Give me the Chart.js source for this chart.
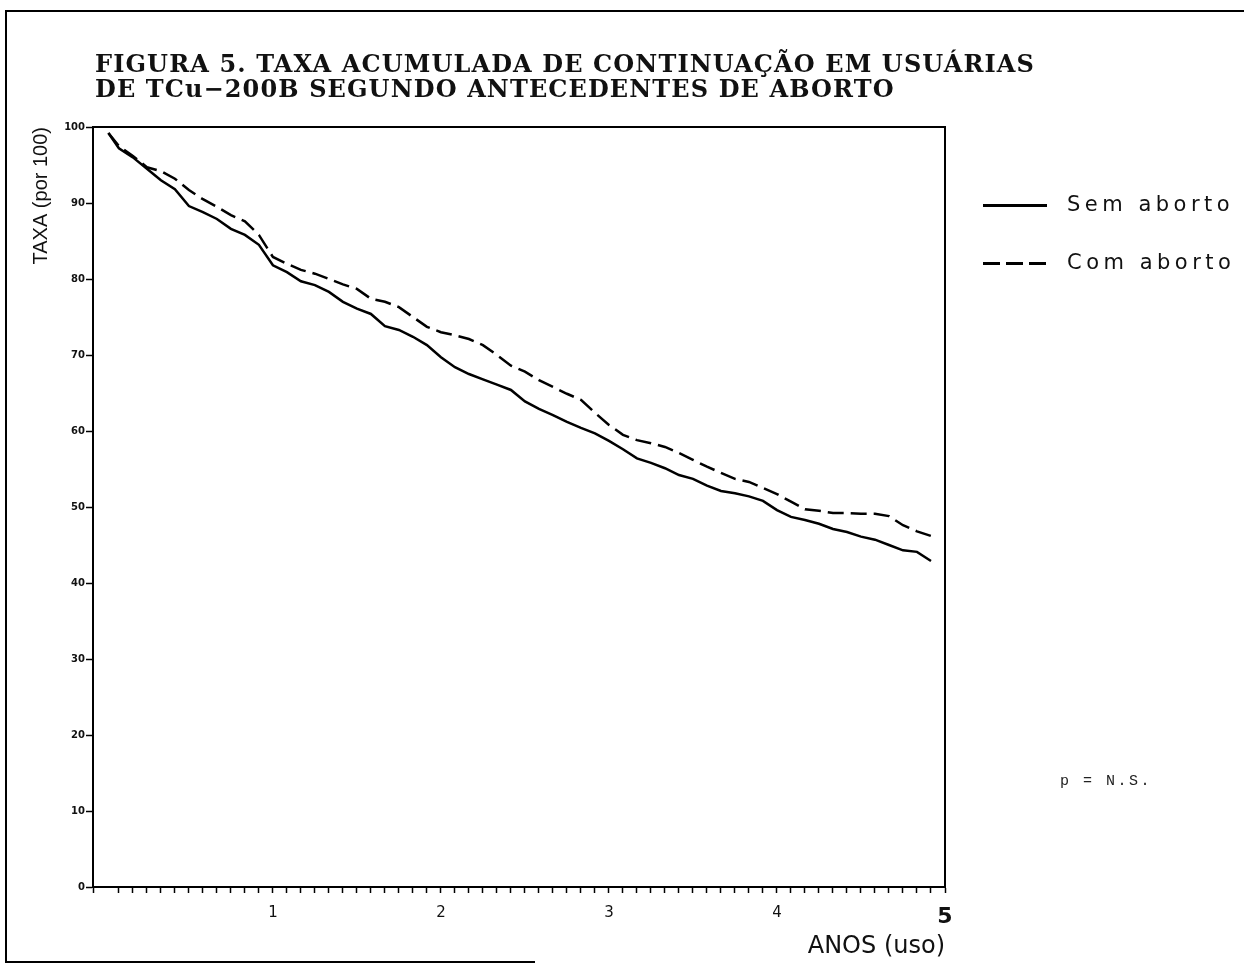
<!DOCTYPE html>
<html>
<head>
<meta charset="utf-8">
<script src="https://cdn.jsdelivr.net/npm/chart.js@4.4.1/dist/chart.umd.min.js"></script>
<style>
  body { margin: 0; background: #fff; }
  #wrap { position: relative; width: 1244px; height: 964px; overflow: hidden; }
  #chart { position: absolute; left: 0; top: 0; }
  .frame { position: absolute; background: #000; }
  #title { position: absolute; left: 95px; top: 51px; font-family: "DejaVu Serif"; font-weight: bold;
           font-size: 24px; line-height: 25px; color: #111; white-space: nowrap; }
  .leg { position: absolute; left: 983px; font-family: "DejaVu Sans"; font-size: 21px; letter-spacing: 4.5px; color: #111; }
  .leg span { display: inline-block; width: 64px; height: 3px; background: #000; vertical-align: middle; margin-right: 20px; }
  .leg span.dash { background: repeating-linear-gradient(90deg, #000 0 17px, transparent 17px 23px); }
  #pns { position: absolute; left: 1060px; top: 773px; font-family: "Liberation Mono"; font-size: 15px; letter-spacing: 2.5px; color: #222; }
</style>
</head>
<body>
<div id="wrap">
  <canvas id="chart" width="1244" height="964"></canvas>
  <div class="frame" style="left:5px;top:10px;width:1239px;height:2px;"></div>
  <div class="frame" style="left:5px;top:10px;width:2px;height:953px;"></div>
  <div class="frame" style="left:5px;top:961px;width:530px;height:2px;"></div>
  <div id="title"><div id="t1">FIGURA 5. TAXA ACUMULADA DE CONTINUAÇÃO EM USUÁRIAS</div><div>DE TCu−200B SEGUNDO ANTECEDENTES DE ABORTO</div></div>
  <div class="leg" style="top:192px;"><span></span>Sem aborto</div>
  <div class="leg" style="top:250px;"><span class="dash"></span>Com aborto</div>
  <div id="pns">p = N.S.</div>
</div>
<script>
// months of use (x), cumulative continuation rate per 100 (y)
var months = [0.25, 1, 2, 3, 4, 5, 6, 7, 8, 9, 10, 11, 12, 13, 14, 15, 16, 17, 18, 19,
  20, 21, 22, 23, 24, 25, 26, 27, 28, 29, 30, 31, 32, 33, 34, 35, 36, 37, 38, 39,
  40, 41, 42, 43, 44, 45, 46, 47, 48, 49, 50, 51, 52, 53, 54, 55, 56, 57, 58, 59];
var semAborto = [99.2, 97.2, 96.0, 94.5, 93.0, 91.8, 89.6, 88.8, 87.9, 86.6, 85.8, 84.5,
  81.8, 80.9, 79.7, 79.2, 78.3, 77.0, 76.1, 75.4, 73.8, 73.3, 72.4, 71.3,
  69.7, 68.4, 67.5, 66.8, 66.1, 65.4, 63.9, 62.9, 62.1, 61.2, 60.4, 59.7,
  58.7, 57.6, 56.4, 55.8, 55.1, 54.2, 53.7, 52.8, 52.1, 51.8, 51.4, 50.8,
  49.6, 48.7, 48.3, 47.8, 47.1, 46.7, 46.1, 45.7, 45.0, 44.3, 44.1, 42.9];
var comAborto = [99.2, 97.5, 96.2, 94.7, 94.2, 93.2, 91.7, 90.5, 89.5, 88.4, 87.6, 85.8,
  82.9, 82.0, 81.2, 80.7, 80.0, 79.3, 78.7, 77.4, 77.0, 76.3, 75.0, 73.7,
  73.0, 72.6, 72.1, 71.3, 70.0, 68.6, 67.8, 66.7, 65.8, 64.9, 64.1, 62.4,
  60.8, 59.5, 58.8, 58.4, 57.9, 57.1, 56.2, 55.3, 54.5, 53.7, 53.3, 52.5,
  51.7, 50.7, 49.7, 49.5, 49.2, 49.2, 49.1, 49.1, 48.8, 47.6, 46.8, 46.2];
var yTicks = [0, 10, 20, 30, 40, 50, 60, 70, 80, 90, 100];

// fit first title line to its width in the figure
var t1 = document.getElementById('t1');
var w = t1.getBoundingClientRect().width;
var ls = (940 - w) / t1.textContent.length;
document.getElementById('title').style.letterSpacing = ls + 'px';

function pts(ys) {
  return months.map(function(m, i) { return { x: m, y: ys[i] }; });
}

var frameBox = {
  id: 'frameBox',
  afterDraw: function(chart) {
    var a = chart.chartArea, c = chart.ctx;
    c.save();
    c.strokeStyle = '#000';
    c.lineWidth = 2;
    c.beginPath();
    c.moveTo(a.left, a.top);
    c.lineTo(a.right, a.top);
    c.lineTo(a.right, a.bottom);
    c.stroke();
    c.restore();
  }
};

new Chart(document.getElementById('chart'), {
  type: 'line',
  data: {
    datasets: [{
      label: 'Sem aborto',
      data: pts(semAborto),
      borderColor: '#000',
      borderWidth: 2.5,
      pointRadius: 0,
      tension: 0
    }, {
      label: 'Com aborto',
      data: pts(comAborto),
      borderColor: '#000',
      borderWidth: 2.5,
      borderDash: [16, 7],
      pointRadius: 0,
      tension: 0
    }]
  },
  options: {
    responsive: false,
    animation: false,
    layout: { padding: { left: 20, top: 127, right: 299, bottom: 3 } },
    plugins: { legend: { display: false }, title: { display: false }, tooltip: { enabled: false } },
    scales: {
      x: {
        type: 'linear',
        min: -0.85,
        max: 60,
        afterFit: function(s) { s.height = 74; },
        grid: { drawOnChartArea: false, color: '#000', tickLength: 6, tickWidth: 1.5 },
        border: { color: '#000', width: 2 },
        ticks: {
          stepSize: 1,
          autoSkip: false,
          maxRotation: 0,
          padding: 11,
          color: '#111',
          font: function(ctx) {
            return ctx.tick && ctx.tick.value === 60
              ? { family: 'DejaVu Sans', size: 22, weight: 'bold' }
              : { family: 'DejaVu Sans', size: 15 };
          },
          callback: function(v) { return (v > 0 && v % 12 === 0) ? String(v / 12) : ''; }
        },
        title: {
          display: true,
          text: 'ANOS (uso)',
          align: 'end',
          color: '#111',
          font: { family: 'DejaVu Sans', size: 24 },
          padding: 0
        }
      },
      y: {
        min: 0,
        max: 100,
        afterFit: function(s) { s.width = 73; },
        afterBuildTicks: function(s) { s.ticks = yTicks.map(function(v) { return { value: v }; }); },
        grid: { drawOnChartArea: false, color: '#000', tickLength: 7, tickWidth: 1.5 },
        border: { color: '#000', width: 2 },
        ticks: { padding: 1, color: '#111', font: { family: 'DejaVu Sans', size: 10, weight: 'bold' } },
        title: {
          display: true,
          text: 'TAXA (por 100)',
          align: 'end',
          color: '#111',
          font: { family: 'Liberation Sans', size: 20 },
          padding: { top: 9, bottom: 0 }
        }
      }
    }
  },
  plugins: [frameBox]
});
</script>
</body>
</html>
